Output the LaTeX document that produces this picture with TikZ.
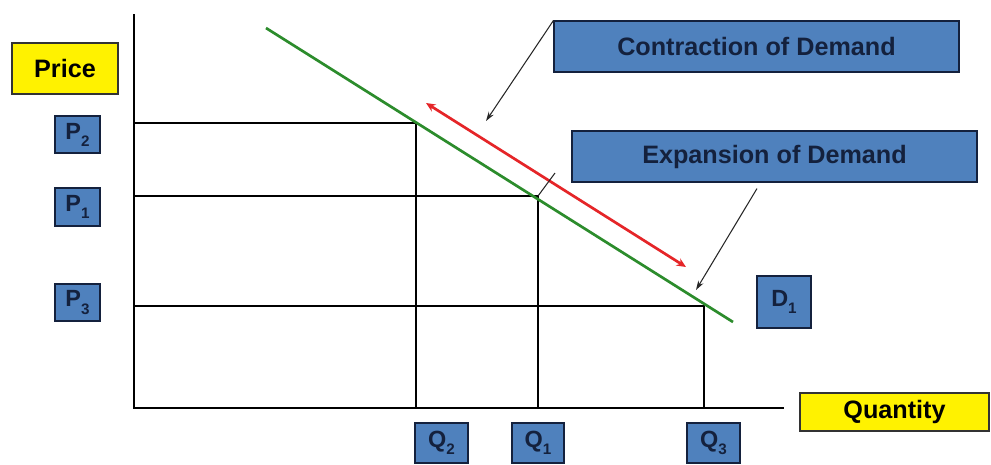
\documentclass[tikz,border=0pt]{standalone}
\usepackage{fontspec}
\setmainfont{Liberation Sans}
\usepackage{xcolor}
\usepackage{tikz}
\usetikzlibrary{arrows.meta, positioning}
\definecolor{boxblue}{HTML}{4F81BD}
\definecolor{navy}{HTML}{14213D}
\definecolor{curvegreen}{HTML}{2C8C2C}
\definecolor{movered}{HTML}{E52528}
\newcommand{\lowidx}[1]{\raisebox{-0.3em}{\fontsize{13}{13}\selectfont#1}}

\begin{document}
\begin{tikzpicture}[x=0.03cm, y=-0.03cm,
  valbox/.style={rectangle, draw=navy, line width=0.9pt, fill=boxblue, inner sep=0pt, minimum width=1.35cm, minimum height=1.11cm, text=navy, font=\bfseries\fontsize{20}{20}\selectfont},
  notebox/.style={rectangle, draw=navy, line width=0.9pt, fill=boxblue, inner sep=0pt, minimum width=12.15cm, minimum height=1.53cm, text=navy, font=\bfseries\fontsize{21.5}{24}\selectfont},
  axisbox/.style={rectangle, draw=black!80, line width=0.9pt, fill=yellow, inner sep=0pt, minimum height=1.53cm, font=\bfseries\fontsize{21.5}{24}\selectfont},
  axis/.style={black, line width=1.6pt},
  guide/.style={black, line width=2.4pt},
  demand/.style={curvegreen, line width=2.3pt},
  move/.style={{Stealth[length=8pt,width=7pt]}-{Stealth[length=8pt,width=7pt]}, movered, line width=2.3pt},
  pointer/.style={-{Stealth[length=8pt,width=5pt]}, black!85, line width=0.9pt}
]
  \useasboundingbox (0,0) rectangle (991,464);

  \node[axisbox, minimum width=3.18cm] (price) at (65,68.5) {Price};
  \node[valbox] (p2) at (77.5,134.5) {P\lowidx{2}};
  \node[valbox, minimum height=1.14cm] (p1) at (77.5,207) {P\lowidx{1}};
  \node[valbox] (p3) at (77.5,302.5) {P\lowidx{3}};

  \node[valbox, minimum width=1.59cm, minimum height=1.2cm] (q2) at (441.5,443) {Q\lowidx{2}};
  \node[valbox, minimum width=1.56cm, minimum height=1.2cm] (q1) at (538,443) {Q\lowidx{1}};
  \node[valbox, minimum width=1.59cm, minimum height=1.2cm] (q3) at (713.5,443) {Q\lowidx{3}};
  \node[valbox, minimum width=1.62cm, minimum height=1.56cm] (d1) at (784,302) {D\lowidx{1}};
  \node[axisbox, minimum width=5.67cm, minimum height=1.14cm] (quantity) at (894.5,412) {Quantity};

  \node[notebox] (contraction) at (756.5,46.5) {Contraction of Demand};
  \node[notebox] (expansion) at (774.5,156.5) {Expansion of Demand};

  \coordinate (origin) at (134,408);
  \coordinate (ytop) at (134,14);
  \coordinate (xend) at (784,408);
  \coordinate (at2) at (416,123);
  \coordinate (at1) at (538,196);
  \coordinate (at3) at (704,306);
  \coordinate (dstart) at (266,28);
  \coordinate (dend) at (733,322);
  \coordinate (rtop) at (426,103);
  \coordinate (rbot) at (686,267);
  \coordinate (ctip) at (486,121);
  \coordinate (etip) at (696,290);
  \coordinate (tick) at (555,173);

  % axes and price/quantity guides
  \draw[axis] (ytop) -- (origin) -- (xend);
  \draw[guide] (origin |- at2) -- (at2) -- (at2 |- origin);
  \draw[guide] (origin |- at1) -- (at1) -- (at1 |- origin);
  \draw[guide] (origin |- at3) -- (at3) -- (at3 |- origin);

  % demand curve and movement along it
  \draw[demand] (dstart) -- (dend);
  \draw[move] (rtop) -- (rbot);

  \draw[pointer] (contraction.north west) -- (ctip);
  \draw[pointer] ([xshift=-0.525cm, yshift=-0.18cm]expansion.south) -- (etip);
  \draw[black!85, line width=0.9pt] (at1) -- (tick);
\end{tikzpicture}
\end{document}
